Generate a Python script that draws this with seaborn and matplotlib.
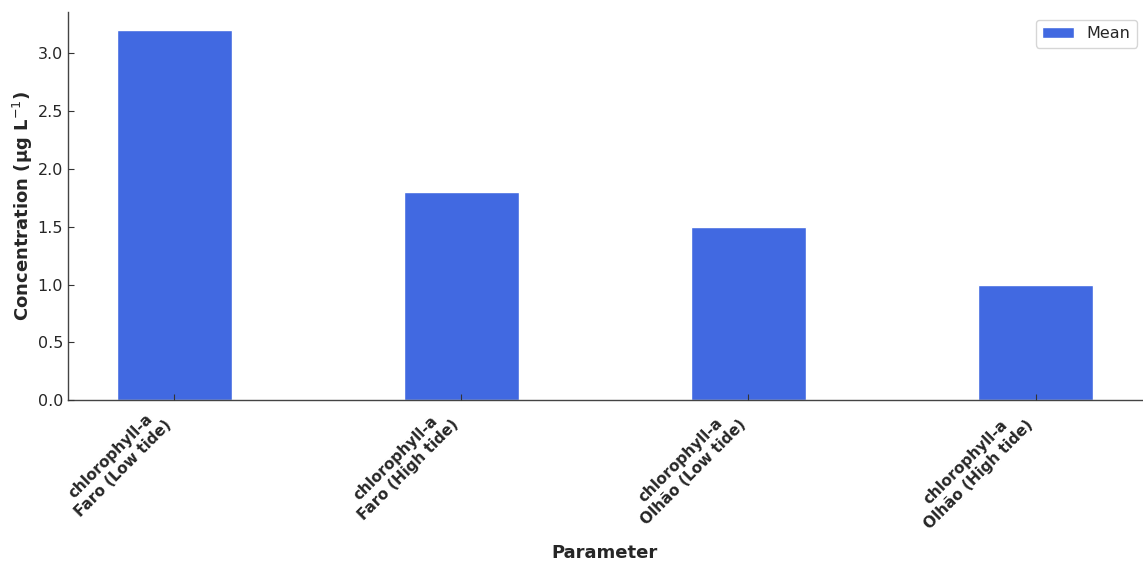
import pandas as pd
import matplotlib
matplotlib.use("Agg")
import matplotlib.pyplot as plt
import seaborn as sns

# chart data
parameters = [
    "chlorophyll-a\nFaro (Low tide)",
    "chlorophyll-a\nFaro (High tide)",
    "chlorophyll-a\nOlhão (Low tide)",
    "chlorophyll-a\nOlhão (High tide)",
]
mean_values = [3.2, 1.8, 1.5, 1.0]

df = pd.DataFrame({"Parameter": parameters, "Mean": mean_values})

sns.set_style("white")
plt.rcParams["font.family"] = ["DejaVu Sans"]
plt.rcParams["text.color"] = "#262626"
plt.rcParams["axes.labelcolor"] = "#262626"
plt.rcParams["xtick.color"] = "#262626"
plt.rcParams["ytick.color"] = "#262626"

fig, ax = plt.subplots(figsize=(11.43, 5.67), dpi=100)
sns.barplot(data=df, x="Parameter", y="Mean", color="royalblue", width=0.4,
            saturation=1, label="Mean", ax=ax)

ax.set_xlim(-0.37, 3.37)
ax.set_ylim(0, 3.36)
ax.set_xlabel("Parameter", fontsize=13, fontweight="bold", labelpad=9)
ax.set_ylabel("Concentration (µg L$^{-1}$)", fontsize=13, fontweight="bold", labelpad=2)
ax.set_xticks(range(len(parameters)))
ax.set_xticklabels(parameters, rotation=45, ha="right", multialignment="center",
                   fontsize=11, fontweight="bold")
ax.tick_params(axis="y", labelsize=11.5)
ax.tick_params(bottom=True, left=True, direction="in", length=4, width=0.8,
               colors="#333333", labelcolor="#262626")
ax.set_axisbelow(False)

sns.despine(ax=ax)
for side in ["left", "bottom"]:
    ax.spines[side].set_color("#444444")
    ax.spines[side].set_linewidth(1.0)

ax.legend(loc="upper right", fontsize=11.5, frameon=True, fancybox=True,
          borderaxespad=0.5, bbox_to_anchor=(1.003, 1.0))

fig.subplots_adjust(left=0.0595, right=0.999, top=0.979, bottom=0.2945)
fig.savefig("out.png", dpi=100)
